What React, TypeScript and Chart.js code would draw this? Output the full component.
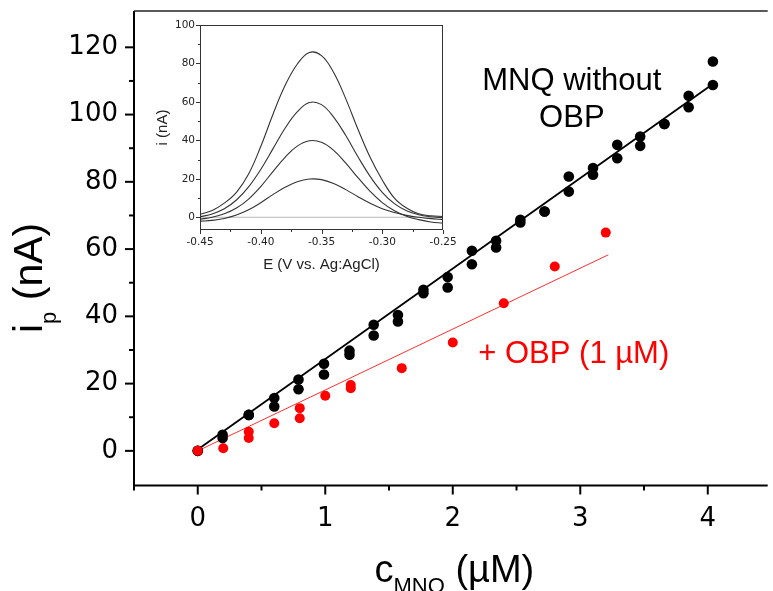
import React, { useEffect, useRef } from 'react';
import { Chart, registerables } from 'chart.js';

Chart.register(...registerables);

// ---------- main plot data ----------
// MNQ without OBP: two replicate measurements per concentration
const mnqConc = [0, 0.195, 0.4, 0.6, 0.79, 0.99, 1.19, 1.38, 1.57, 1.77, 1.96, 2.15, 2.34, 2.53, 2.72, 2.91, 3.1, 3.29, 3.47, 3.66, 3.85, 4.04];
const mnqRep1 = [0, 4.8, 10.7, 15.7, 21.2, 25.9, 29.8, 37.5, 40.4, 47.9, 51.7, 59.5, 62.5, 68.7, 71.2, 81.6, 84.1, 91.0, 93.5, 97.2, 105.6, 115.8];
const mnqRep2 = [0, 3.8, 10.7, 13.2, 18.3, 22.7, 28.6, 34.3, 38.5, 46.9, 48.6, 55.5, 60.5, 67.9, 71.2, 77.1, 82.1, 87.0, 90.7, 97.2, 102.2, 108.8];
const mnqFitX = [0, 4.04];
const mnqFitY = [0.4, 109.1];

// + OBP (1 uM)
const obpConc = [0, 0.2, 0.4, 0.4, 0.6, 0.8, 0.8, 1.0, 1.2, 1.2, 1.6, 2.0, 2.4, 2.8, 3.2];
const obpCurrent = [0, 0.8, 5.7, 3.8, 8.2, 12.7, 9.7, 16.4, 19.6, 18.6, 24.6, 32.2, 43.9, 54.8, 64.9];
const obpFitX = [0, 3.22];
const obpFitY = [0, 58.3];

const xTicks = [0, 1, 2, 3, 4];
const xMinorTicks = [-0.5, 0.5, 1.5, 2.5, 3.5];
const yTicks = [0, 20, 40, 60, 80, 100, 120];
const yMinorTicks = [10, 30, 50, 70, 90, 110];

// ---------- inset data (DPV curves) ----------
const insetE = [-0.45, -0.44, -0.43, -0.42, -0.41, -0.4, -0.39, -0.38, -0.37, -0.36, -0.35, -0.34, -0.33, -0.32, -0.31, -0.3, -0.29, -0.28, -0.27, -0.26, -0.25];
const dpv86 = [1.6, 3.6, 7.4, 13.0, 22.5, 36.8, 53.5, 68.5, 79.6, 85.7, 84.1, 75.3, 61.6, 45.8, 31.2, 19.4, 10.0, 4.8, 1.8, 0.8, 0.4];
const dpv60 = [0.3, 1.7, 4.4, 9.0, 15.8, 24.9, 35.6, 46.3, 54.8, 59.7, 58.6, 52.1, 42.5, 31.5, 21.3, 13.0, 7.1, 3.4, 1.3, 0.3, -0.2];
const dpv40 = [-1.0, 0.0, 1.8, 4.8, 9.5, 16.0, 23.8, 31.2, 37.0, 39.8, 39.0, 34.8, 28.2, 20.6, 13.5, 7.6, 3.4, 0.6, -1.2, -2.4, -3.0];
const dpv20 = [-2.0, -1.6, -0.6, 1.2, 3.9, 7.6, 11.8, 15.6, 18.5, 19.9, 19.6, 17.6, 14.4, 10.7, 7.3, 4.5, 2.5, 1.0, 0.0, -0.7, -1.2];
const blankE = [-0.45, -0.25];
const blankI = [0, 0];

const insetXTicks = [-0.45, -0.4, -0.35, -0.3, -0.25];
const insetXMinorTicks = [-0.425, -0.375, -0.325, -0.275];
const insetYTicks = [0, 20, 40, 60, 80, 100];
const insetYMinorTicks = [10, 30, 50, 70, 90];

const TEXT_FONT = '"Liberation Sans", Arial, Helvetica, sans-serif';
const TICK_FONT = '"DejaVu Sans", "Liberation Sans", Arial, sans-serif';

const pts = (xs: number[], ys: number[]) => xs.map((x, i) => ({ x, y: ys[i] }));

function strokeLine(ctx: CanvasRenderingContext2D, x1: number, y1: number, x2: number, y2: number) {
  ctx.beginPath();
  ctx.moveTo(x1, y1);
  ctx.lineTo(x2, y2);
  ctx.stroke();
}

const noPad = (s: any) => {
  s.paddingTop = 0;
  s.paddingBottom = 0;
  s.paddingLeft = 0;
  s.paddingRight = 0;
};

const mainDecor = {
  id: 'mainDecor',
  afterDraw(chart: any) {
    const { ctx, chartArea: a, scales } = chart;
    const xs = scales.x;
    const ys = scales.y;
    ctx.save();
    ctx.strokeStyle = '#000';
    ctx.lineWidth = 2;
    ctx.beginPath();
    ctx.moveTo(a.left, a.top);
    ctx.lineTo(a.left, a.bottom);
    ctx.lineTo(a.right, a.bottom);
    ctx.stroke();
    ctx.lineWidth = 1.5;
    ctx.strokeStyle = '#222';
    strokeLine(ctx, a.left, a.top, a.right, a.top);
    ctx.strokeStyle = '#000';
    ctx.lineWidth = 2;
    yTicks.forEach((v) => {
      const p = ys.getPixelForValue(v);
      strokeLine(ctx, a.left - 9, p, a.left, p);
    });
    yMinorTicks.forEach((v) => {
      const p = ys.getPixelForValue(v);
      strokeLine(ctx, a.left - 5, p, a.left, p);
    });
    xTicks.forEach((v) => {
      const p = xs.getPixelForValue(v);
      strokeLine(ctx, p, a.bottom, p, a.bottom + 9);
    });
    xMinorTicks.forEach((v) => {
      const p = xs.getPixelForValue(v);
      strokeLine(ctx, p, a.bottom, p, a.bottom + 5);
    });

    // annotations
    ctx.fillStyle = '#000';
    ctx.font = `31px ${TEXT_FONT}`;
    ctx.textAlign = 'center';
    ctx.textBaseline = 'alphabetic';
    ctx.fillText('MNQ without', xs.getPixelForValue(2.934), ys.getPixelForValue(107.4));
    ctx.fillText('OBP', xs.getPixelForValue(2.934), ys.getPixelForValue(96.4));
    ctx.fillStyle = '#ff0000';
    ctx.textAlign = 'left';
    ctx.fillText('+ OBP (1 \u00b5M)', xs.getPixelForValue(2.2), ys.getPixelForValue(26.2));

    // x axis title: c_MNQ (uM)
    ctx.fillStyle = '#000';
    ctx.textAlign = 'left';
    let cx = 374.5;
    const by = 582;
    ctx.font = `38px ${TEXT_FONT}`;
    ctx.fillText('c', cx, by);
    cx += ctx.measureText('c').width;
    ctx.font = `22px ${TEXT_FONT}`;
    ctx.fillText('MNQ', cx, by + 11);
    cx += ctx.measureText('MNQ').width;
    ctx.font = `38px ${TEXT_FONT}`;
    ctx.fillText(' (\u00b5M)', cx, by);

    // y axis title: i_p (nA)
    ctx.save();
    ctx.translate(42, 333);
    ctx.rotate(-Math.PI / 2);
    let tx = 0;
    ctx.font = `41px ${TEXT_FONT}`;
    ctx.fillText('i', tx, 0);
    tx += ctx.measureText('i').width;
    ctx.font = `22px ${TEXT_FONT}`;
    ctx.fillText('p', tx, 14);
    tx += ctx.measureText('p').width;
    ctx.font = `41px ${TEXT_FONT}`;
    ctx.fillText(' (nA)', tx, 0);
    ctx.restore();

    ctx.restore();
  },
};

const insetDecor = {
  id: 'insetDecor',
  afterDraw(chart: any) {
    const { ctx, chartArea: a, scales } = chart;
    const xs = scales.x;
    const ys = scales.y;
    ctx.save();
    ctx.strokeStyle = '#333';
    ctx.lineWidth = 1;
    ctx.strokeRect(a.left + 0.5, a.top + 0.5, a.right - a.left - 1, a.bottom - a.top - 1);
    insetYTicks.forEach((v) => {
      const p = Math.round(ys.getPixelForValue(v)) + 0.5;
      strokeLine(ctx, a.left - 4, p, a.left, p);
    });
    insetYMinorTicks.forEach((v) => {
      const p = Math.round(ys.getPixelForValue(v)) + 0.5;
      strokeLine(ctx, a.left - 2, p, a.left, p);
    });
    insetXTicks.forEach((v) => {
      const p = Math.round(xs.getPixelForValue(v)) + 0.5;
      strokeLine(ctx, p, a.bottom, p, a.bottom + 4);
    });
    insetXMinorTicks.forEach((v) => {
      const p = Math.round(xs.getPixelForValue(v)) + 0.5;
      strokeLine(ctx, p, a.bottom, p, a.bottom + 2);
    });

    ctx.fillStyle = '#222';
    ctx.font = `15px ${TEXT_FONT}`;
    ctx.textAlign = 'center';
    ctx.textBaseline = 'alphabetic';
    ctx.fillText('E (V vs. Ag:AgCl)', (a.left + a.right) / 2, 254);

    ctx.save();
    ctx.translate(27, (a.top + a.bottom) / 2);
    ctx.rotate(-Math.PI / 2);
    ctx.fillText('i (nA)', 0, 0);
    ctx.restore();
    ctx.restore();
  },
};

export default function App() {
  const mainRef = useRef<HTMLCanvasElement>(null);
  const insetRef = useRef<HTMLCanvasElement>(null);

  useEffect(() => {
    const main = new Chart(mainRef.current as HTMLCanvasElement, {
      type: 'scatter',
      data: {
        datasets: [
          {
            label: '+ OBP (1 uM)',
            data: pts(obpConc, obpCurrent),
            backgroundColor: '#ff0000',
            borderWidth: 0,
            pointRadius: 5,
            showLine: false,
          },
          {
            label: 'MNQ without OBP',
            data: [...pts(mnqConc, mnqRep1), ...pts(mnqConc, mnqRep2)],
            backgroundColor: '#000000',
            borderWidth: 0,
            pointRadius: 5.3,
            showLine: false,
          },
          {
            label: 'MNQ fit',
            data: pts(mnqFitX, mnqFitY),
            borderColor: '#000000',
            borderWidth: 1.8,
            pointRadius: 0,
            showLine: true,
          },
          {
            label: 'OBP fit',
            data: pts(obpFitX, obpFitY),
            borderColor: '#ff3030',
            borderWidth: 1,
            pointRadius: 0,
            showLine: true,
          },
        ],
      },
      options: {
        animation: false,
        responsive: false,
        devicePixelRatio: 1,
        layout: { padding: { left: 0, top: 11, right: 0, bottom: 0 } },
        plugins: { legend: { display: false }, tooltip: { enabled: false } },
        scales: {
          x: {
            type: 'linear',
            min: -0.5,
            max: 4.47,
            grid: { display: false, drawTicks: false },
            border: { display: false },
            afterBuildTicks: (s: any) => {
              s.ticks = xTicks.map((v) => ({ value: v }));
            },
            afterFit: (s: any) => {
              s.height = 105.5;
              noPad(s);
            },
            ticks: {
              padding: 18,
              color: '#000',
              font: { family: TICK_FONT, size: 26 },
              maxRotation: 0,
              autoSkip: false,
              callback: (v: any) => String(v),
            },
          },
          y: {
            type: 'linear',
            min: -10.3,
            max: 130.8,
            grid: { display: false, drawTicks: false },
            border: { display: false },
            afterBuildTicks: (s: any) => {
              s.ticks = yTicks.map((v) => ({ value: v }));
            },
            afterFit: (s: any) => {
              s.width = 134;
              noPad(s);
            },
            ticks: {
              padding: 16,
              color: '#000',
              font: { family: TICK_FONT, size: 26 },
              autoSkip: false,
              callback: (v: any) => String(v),
            },
          },
        },
      },
      plugins: [mainDecor],
    } as any);

    const curveStyle = {
      borderColor: '#333333',
      borderWidth: 1.1,
      pointRadius: 0,
      showLine: true,
      tension: 0.4,
    };

    const inset = new Chart(insetRef.current as HTMLCanvasElement, {
      type: 'scatter',
      data: {
        datasets: [
          { label: '86', data: pts(insetE, dpv86), ...curveStyle },
          { label: '60', data: pts(insetE, dpv60), ...curveStyle },
          { label: '40', data: pts(insetE, dpv40), ...curveStyle },
          { label: '20', data: pts(insetE, dpv20), ...curveStyle },
          { label: 'blank', data: pts(blankE, blankI), ...curveStyle, borderColor: '#b8b8b8', tension: 0 },
        ],
      },
      options: {
        animation: false,
        responsive: false,
        devicePixelRatio: 1,
        layout: { padding: { left: 0, top: 10, right: 27, bottom: 0 } },
        plugins: { legend: { display: false }, tooltip: { enabled: false } },
        scales: {
          x: {
            type: 'linear',
            min: -0.45,
            max: -0.25,
            grid: { display: false, drawTicks: false },
            border: { display: false },
            afterBuildTicks: (s: any) => {
              s.ticks = insetXTicks.map((v) => ({ value: v }));
            },
            afterFit: (s: any) => {
              s.height = 47;
              noPad(s);
            },
            ticks: {
              padding: 6,
              color: '#222',
              font: { family: TICK_FONT, size: 10.5 },
              maxRotation: 0,
              autoSkip: false,
              callback: (v: any) => Number(v).toFixed(2),
            },
          },
          y: {
            type: 'linear',
            min: -6.6,
            max: 100,
            grid: { display: false, drawTicks: false },
            border: { display: false },
            afterBuildTicks: (s: any) => {
              s.ticks = insetYTicks.map((v) => ({ value: v }));
            },
            afterFit: (s: any) => {
              s.width = 60;
              noPad(s);
            },
            ticks: {
              padding: 5,
              color: '#222',
              font: { family: TICK_FONT, size: 10.5 },
              autoSkip: false,
              callback: (v: any) => String(v),
            },
          },
        },
      },
      plugins: [insetDecor],
    } as any);

    return () => {
      main.destroy();
      inset.destroy();
    };
  }, []);

  return (
    <div style={{ position: 'fixed', left: 0, top: 0, width: 773, height: 591, background: '#fff', overflow: 'hidden' }}>
      <canvas ref={mainRef} width={773} height={591} style={{ position: 'absolute', left: 0, top: 0, width: 773, height: 591 }} />
      <canvas ref={insetRef} width={330} height={262} style={{ position: 'absolute', left: 140, top: 15, width: 330, height: 262 }} />
    </div>
  );
}
